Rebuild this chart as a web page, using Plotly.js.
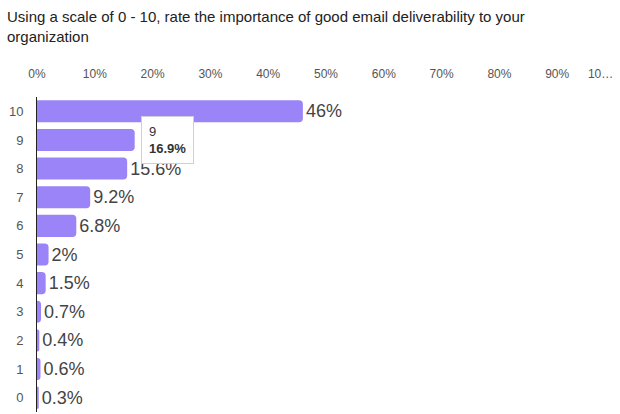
<!DOCTYPE html>
<html><head><meta charset="utf-8">
<script src="https://cdn.plot.ly/plotly-3.0.1.min.js"></script>
<style>html,body{margin:0;padding:0;background:#fff}</style>
</head><body><div id="chart" style="width:620px;height:414px"></div>
<script>
const categories = ["10","9","8","7","6","5","4","3","2","1","0"];
const percents = [46, 16.9, 15.6, 9.2, 6.8, 2, 1.5, 0.7, 0.4, 0.6, 0.3];
const tickValues = [0,10,20,30,40,50,60,70,80,90,97.5];
const tickLabels = ["0%","10%","20%","30%","40%","50%","60%","70%","80%","90%","10…"];
const titleText = "Using a scale of 0 - 10, rate the importance of good email deliverability to your<br>organization";
const hoverCategory = "9";
const hoverValue = 16.9;

const hoverIndex = categories.indexOf(hoverCategory);
const trace = {
  type: "bar", orientation: "h",
  x: percents, y: categories,
  marker: {color: "#9a84f8", cornerradius: 4},
  texttemplate: categories.map((c, i) => i === hoverIndex ? "" : "%{x}%"),
  textposition: "outside", cliponaxis: false,
  textfont: {family: "Liberation Sans, Arial, sans-serif", size: 18, color: "#444"},
  hoverinfo: "none"
};
const layout = {
  width: 620, height: 414,
  margin: {l: 37, r: 5, t: 97, b: 2},
  paper_bgcolor: "#fff", plot_bgcolor: "#fff",
  bargap: 0.23,
  showlegend: false,
  font: {family: "Liberation Sans, Arial, sans-serif", color: "#555"},
  xaxis: {range: [0, 100], side: "top", showgrid: false, zeroline: false, showline: false,
          tickvals: tickValues, ticktext: tickLabels, ticks: "", ticklabelstandoff: 16,
          tickfont: {size: 12, color: "#555"}, fixedrange: true},
  yaxis: {autorange: "reversed", type: "category", showgrid: false, zeroline: false,
          showline: true, linecolor: "#222", linewidth: 1, ticks: "", ticklabelstandoff: 10,
          tickfont: {size: 13, color: "#555"}, fixedrange: true},
  annotations: [{
    xref: "paper", yref: "paper", x: 0, y: 1, xanchor: "left", yanchor: "bottom",
    xshift: -32, yshift: 50, text: titleText, showarrow: false, align: "left",
    font: {size: 15, color: "#222", family: "Liberation Sans, Arial, sans-serif"}
  }, {
    x: hoverValue, y: hoverIndex, xref: "x", yref: "y",
    text: hoverCategory + "<br><b>" + hoverValue + "%</b>",
    showarrow: false, xanchor: "left", yanchor: "middle", xshift: 6, yshift: 0, align: "left",
    bgcolor: "#fff", bordercolor: "#d0d0d0", borderwidth: 1, borderpad: 7,
    font: {size: 13, color: "#333", family: "Liberation Sans, Arial, sans-serif"}
  }]
};
Plotly.newPlot("chart", [trace], layout, {displayModeBar: false, staticPlot: true});
</script></body></html>
